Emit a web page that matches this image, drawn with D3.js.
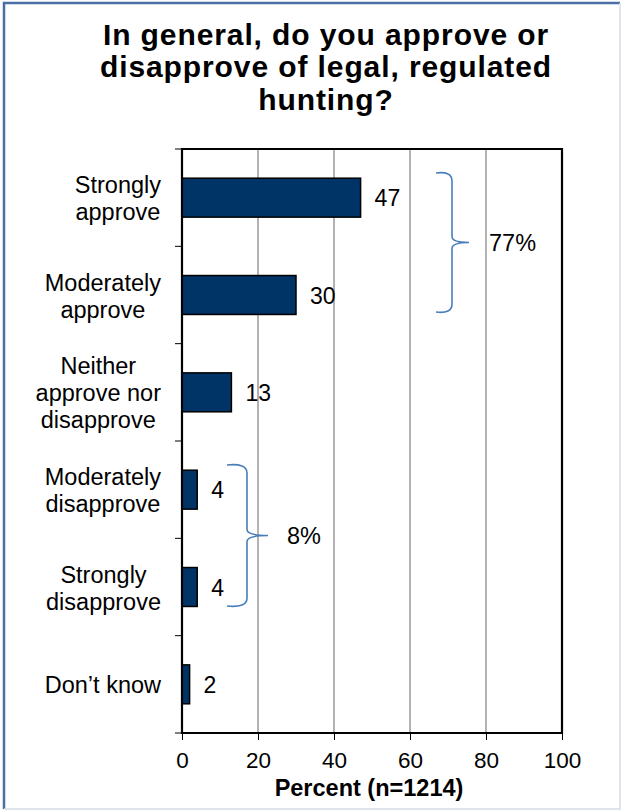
<!DOCTYPE html>
<html><head><meta charset="utf-8">
<script src="https://cdn.jsdelivr.net/npm/d3@7"></script>
<style>body{margin:0;background:#fff}svg{display:block}text{font-family:"Liberation Sans",Arial,sans-serif}</style>
</head><body>
<script>
const categories = [["Strongly","approve"],["Moderately","approve"],["Neither","approve nor","disapprove"],["Moderately","disapprove"],["Strongly","disapprove"],["Don\u2019t know"]];
const values = [47, 30, 13, 4, 4, 2];
const xTicks = [0, 20, 40, 60, 80, 100];
const titleLines = ["In general, do you approve or","disapprove of legal, regulated","hunting?"];
const xTitle = "Percent (n=1214)";
const brackets = [{from:0,to:1,label:"77%"},{from:3,to:4,label:"8%"}];

const W=622,H=811;
const svg=d3.select("body").append("svg").attr("width",W).attr("height",H);
svg.append("rect").attr("x",0).attr("y",0).attr("width",W).attr("height",H).attr("fill","#fff");
// frame
svg.append("path").attr("d",`M4,${H-2} V3 H${W-2}`).attr("fill","none").attr("stroke","#4a6fa5").attr("stroke-width",2.5);
svg.append("path").attr("d",`M${W-2},3 V${H-2} H4`).attr("fill","none").attr("stroke","#d6dde6").attr("stroke-width",1.5);

const L=182,R=562,T=149,B=733;
const x=d3.scaleLinear().domain([0,100]).range([L,R]);
const idx=categories.map((d,i)=>i);
const y=d3.scaleBand().domain(idx).range([T,B]).paddingInner(0.6).paddingOuter(0.3);
const yb=d3.scaleBand().domain(idx).range([T,B]);

// title
svg.append("text").attr("font-size",30).attr("font-weight","bold").attr("text-anchor","middle").attr("letter-spacing",0.9)
 .selectAll("tspan").data(titleLines).join("tspan").attr("x",326).attr("y",(d,i)=>45+i*32.3).text(d=>d);

// gridlines
svg.append("g").selectAll("line").data(xTicks.filter(t=>t>0&&t<100)).join("line")
 .attr("x1",d=>x(d)).attr("x2",d=>x(d)).attr("y1",T).attr("y2",B).attr("stroke","#808080").attr("stroke-width",1.2);

// x axis
const gx=svg.append("g").attr("transform",`translate(0,${B})`).call(d3.axisBottom(x).tickValues(xTicks).tickSize(7).tickPadding(0).tickFormat(d3.format("d")));
gx.select(".domain").remove();
gx.selectAll("line").attr("stroke","#000").attr("stroke-width",1);
gx.selectAll("text").attr("font-size",22.5).attr("fill","#000").attr("dy",null).attr("y",35).attr("font-family","Liberation Sans, Arial, sans-serif");

// y ticks at band boundaries
const yBounds=idx.map(i=>yb(i)).concat([B]);
svg.append("g").selectAll("line").data(yBounds).join("line")
 .attr("x1",L-7).attr("x2",L).attr("y1",d=>d).attr("y2",d=>d).attr("stroke","#000").attr("stroke-width",1);

// bars
svg.append("g").selectAll("rect").data(values).join("rect")
 .attr("x",x(0)).attr("y",(d,i)=>y(i)).attr("width",d=>x(d)-x(0)).attr("height",y.bandwidth())
 .attr("fill","#003366").attr("stroke","#000").attr("stroke-width",1.5);

// plot frame
svg.append("path").attr("d",`M${L},${T} H${R} V${B} H${L} Z`).attr("fill","none").attr("stroke","#000").attr("stroke-width",2.2);

// value labels
svg.append("g").selectAll("text").data(values).join("text")
 .attr("x",d=>x(d)+14).attr("y",(d,i)=>yb(i)+yb.bandwidth()/2+8.5).attr("font-size",23).text(d=>d);

// category labels: each block right-aligned, lines centered within block
const cg=svg.append("g");
const blockRight=161;
categories.forEach((lines,i)=>{
  const cy=yb(i)+yb.bandwidth()/2;
  const lh=27;
  const t=cg.append("text").attr("text-anchor","middle").attr("font-size",23.5);
  const spans=lines.map((ln,j)=>t.append("tspan").attr("y",cy+(j-(lines.length-1)/2)*lh+9).text(ln));
  const maxW=d3.max(spans,s=>s.node().getComputedTextLength());
  spans.forEach(s=>s.attr("x",blockRight-maxW/2));
});

// x title
svg.append("text").attr("x",x(50)-3).attr("y",796).attr("text-anchor","middle").attr("font-size",23.5).attr("font-weight","bold").text(xTitle);

// brackets
const bracketCfg=[{vx:452,left:436,tip:469,top:173,bot:312,lx:489},{vx:247,left:227,tip:268,top:465,bot:606,lx:287}];
brackets.forEach((b,k)=>{
  const c=bracketCfg[k];
  const mid=(c.top+c.bot)/2;
  const p=`M${c.left},${c.top} Q${c.vx},${c.top-2} ${c.vx},${c.top+8} V${mid-6} Q${c.vx},${mid} ${c.tip},${mid} Q${c.vx},${mid} ${c.vx},${mid+6} V${c.bot-8} Q${c.vx},${c.bot+2} ${c.left},${c.bot}`;
  svg.append("path").attr("d",p).attr("fill","none").attr("stroke","#4a7ebb").attr("stroke-width",1.6);
  svg.append("text").attr("x",c.lx).attr("y",mid+8).attr("font-size",23.5).text(b.label);
});
</script>
</body></html>
